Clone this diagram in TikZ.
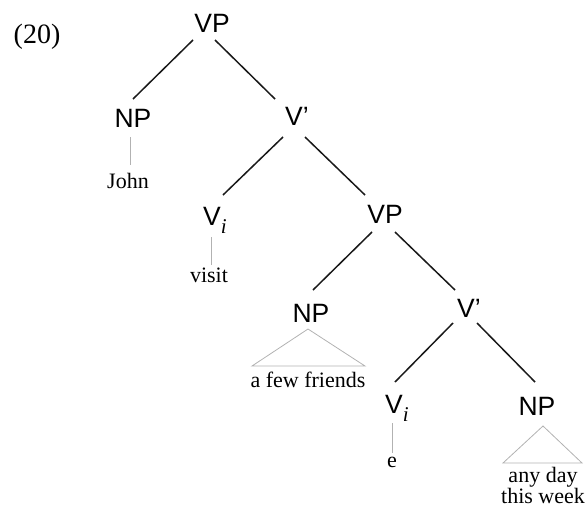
\documentclass[tikz,border=0pt]{standalone}
\usepackage{fontspec}
\setmainfont{Liberation Serif}
\newfontfamily\labfont{Liberation Sans}
\newcommand{\subi}{\raisebox{-8pt}{\rmfamily\itshape\fontsize{21}{23}\selectfont i}}
\begin{document}
\begin{tikzpicture}[x=1pt,y=-1pt,
  cat/.style={font=\labfont\fontsize{26.5}{30}\selectfont, inner sep=0pt, anchor=base},
  catw/.style={cat, anchor=base west},
  word/.style={font=\fontsize{22}{26}\selectfont, inner sep=0pt, anchor=base},
  branch/.style={line width=1.5pt, black!90},
  unary/.style={line width=0.8pt, gray!60}]
\useasboundingbox (0,0) rectangle (588,509);

% example number
\node[font=\fontsize{28}{30}\selectfont, inner sep=0pt, anchor=base] (ex) at (37,43) {(20)};

% category nodes
\node[cat]  (vpA) at (212,32)  {VP};
\node[cat]  (npA) at (133,127) {NP};
\node[catw] (vbA) at (285,125) {V’};
\node[catw] (viA) at (203,225) {V\subi};
\node[cat]  (vpB) at (385,223) {VP};
\node[cat]  (npB) at (311,322) {NP};
\node[catw] (vbB) at (457,317) {V’};
\node[catw] (viB) at (385,413) {V\subi};
\node[cat]  (npC) at (537,415) {NP};

% words
\node[word] (john)    at (128,188) {John};
\node[word] (visit)   at (209,282) {visit};
\node[word] (friends) at (308,387) {a few friends};
\node[word] (e)       at (392,467) {e};
\node[word] (anyday)  at (543,482) {any day};
\node[word] (thisweek) at (543,503) {this week};

% branches
\draw[branch] ([shift={(-19,8)}]vpA.base) -- ([shift={(0,-28)}]npA.base);
\draw[branch] ([shift={(3,8)}]vpA.base) -- ([shift={(-10,-26)}]vbA.base west);
\draw[branch] ([shift={(-2,12)}]vbA.base west) -- ([shift={(20,-30)}]viA.base west);
\draw[branch] ([shift={(20,12)}]vbA.base west) -- ([shift={(-20,-28)}]vpB.base);
\draw[branch] ([shift={(-13,9)}]vpB.base) -- ([shift={(2,-32)}]npB.base);
\draw[branch] ([shift={(10,9)}]vpB.base) -- ([shift={(-2,-27)}]vbB.base west);
\draw[branch] ([shift={(-4,6)}]vbB.base west) -- ([shift={(10,-31)}]viB.base west);
\draw[branch] ([shift={(20,6)}]vbB.base west) -- ([shift={(-2,-33)}]npC.base);

% unary lines
\draw[unary] ([shift={(-3,10)}]npA.base) -- ([shift={(2,-23)}]john.base);
\draw[unary] ([shift={(8,12)}]viA.base west) -- ([shift={(2,-17)}]visit.base);
\draw[unary] ([shift={(7,10)}]viB.base west) -- ([shift={(0,-14)}]e.base);

% triangles
\draw[unary] ([shift={(-3,7)}]npB.base) -- ([shift={(-59,44)}]npB.base) -- ([shift={(54,44)}]npB.base) -- cycle;
\draw[unary] ([shift={(6,11)}]npC.base) -- ([shift={(-34,48)}]npC.base) -- ([shift={(45,48)}]npC.base) -- cycle;
\end{tikzpicture}
\end{document}
